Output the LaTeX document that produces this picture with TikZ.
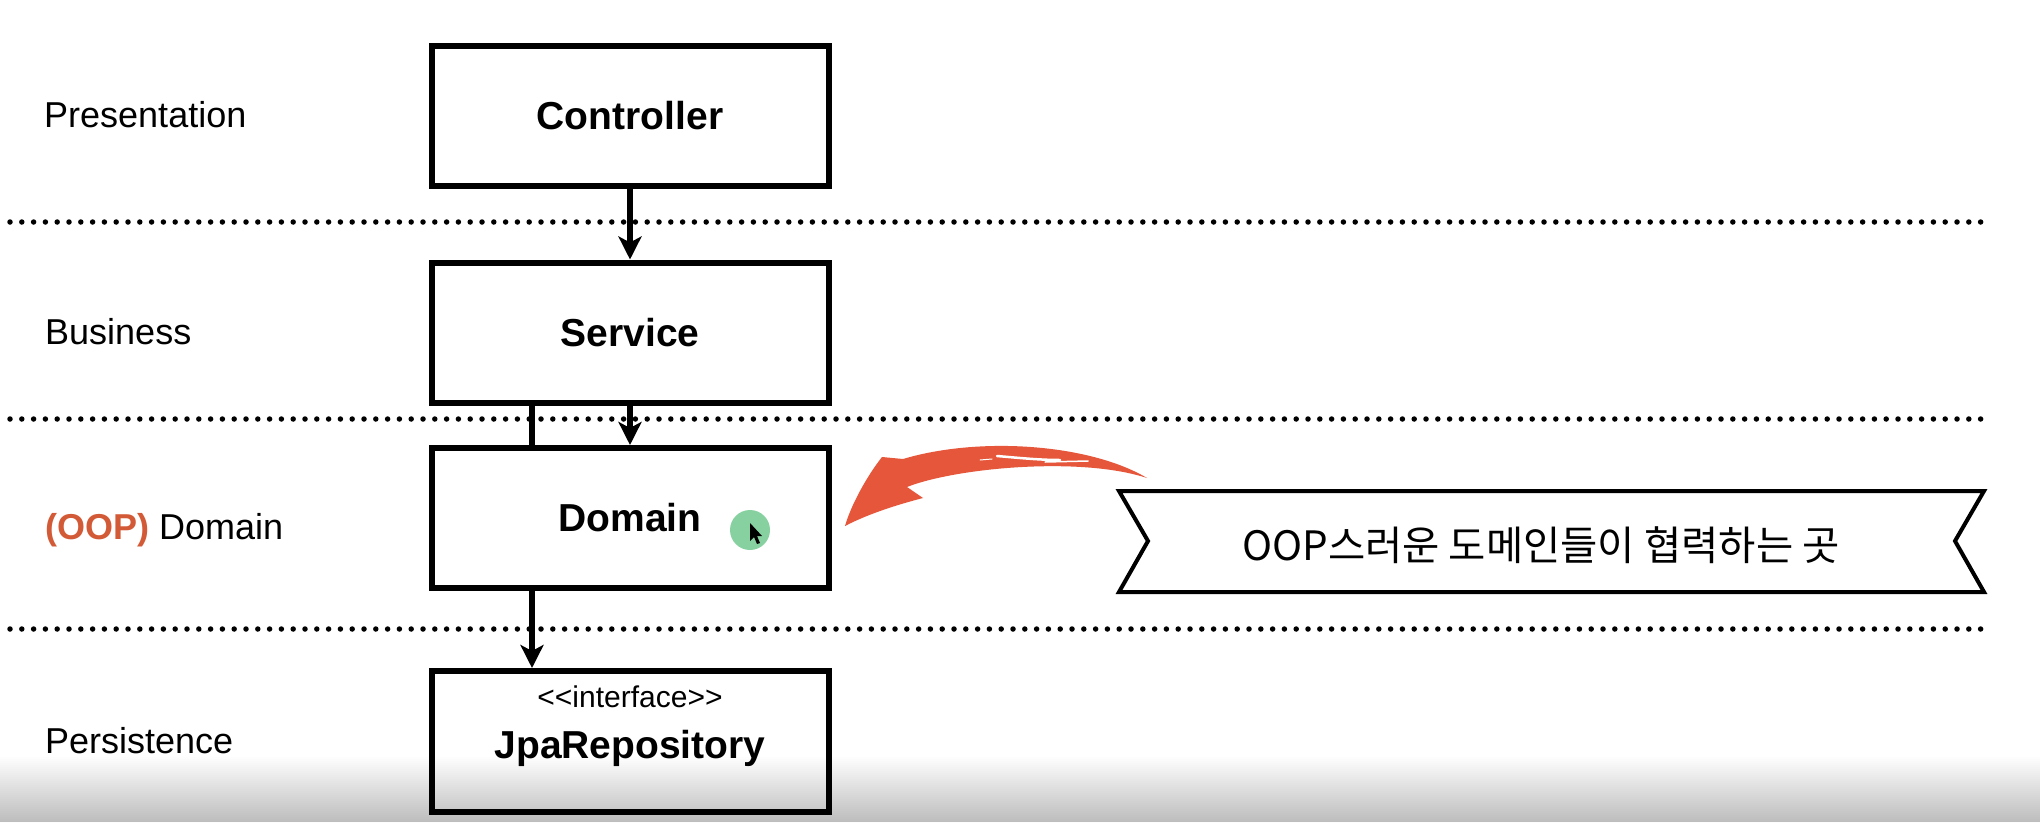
\documentclass[tikz,border=0pt]{standalone}
\usepackage{fontspec}
\setmainfont{Liberation Sans}
\newfontfamily\kr{Noto Sans CJK KR}
\usetikzlibrary{arrows.meta}
\definecolor{brushred}{RGB}{229,86,58}
\definecolor{oopred}{RGB}{211,90,54}
\definecolor{dotgreen}{RGB}{122,204,150}
\tikzset{
  layerbox/.style={draw=black, line width=6pt, minimum width=397pt, minimum height=140pt, inner sep=0pt, fill=white, font=\fontsize{39}{46}\selectfont\bfseries},
  layerlabel/.style={anchor=west, inner sep=0pt, font=\fontsize{36}{42}\selectfont},
  divider/.style={line width=5.5pt, line cap=round, dash pattern=on 0pt off 11.8pt},
  conn/.style={line width=5.5pt},
  arr/.style={line width=5.5pt, -{Stealth[length=23pt,width=23pt,inset=6pt]}},
}
\begin{document}
\begin{tikzpicture}[x=1pt,y=-1pt]
\useasboundingbox (0,0) rectangle (2040,822);
\fill[white] (0,0) rectangle (2040,822);
% dividers
\coordinate (d1l) at (10,222); \coordinate (d1r) at (1984,222);
\coordinate (d2l) at (10,419); \coordinate (d2r) at (1984,419);
\coordinate (d3l) at (10,629); \coordinate (d3r) at (1984,629);
\draw[divider] (d1l) -- (d1r);
\draw[divider] (d2l) -- (d2r);
\draw[divider] (d3l) -- (d3r);
% left labels
\node[layerlabel] (lpres) at (44,115) {Presentation};
\node[layerlabel] (lbus) at (45,332) {Business};
\node[layerlabel] (ldom) at (45,530) {\textcolor{oopred}{\bfseries (OOP)} Domain};
\node[layerlabel] (lpers) at (45,741) {Persistence};
% boxes
\node[layerbox] (ctrl) at (630,116) {Controller};
\node[layerbox] (svc) at (630,332.5) {Service};
\node[layerbox] (dom) at (630,518) {Domain};
\node[layerbox, minimum height=141pt] (jpa) at (630,741.5) {};
\node[inner sep=0pt, font=\fontsize{30}{36}\selectfont] (iface) at (630,697) {<\kern0pt<interface>\kern0pt>};
\node[inner sep=0pt, font=\fontsize{39}{46}\selectfont\bfseries] (jpaname) at (630,748) {JpaRepository};
% connectors
\draw[arr] (ctrl.south) -- (svc.north);
\draw[arr] (svc.south) -- (dom.north);
\draw[conn] ([xshift=-98pt]svc.south) -- ([xshift=-98pt]dom.north);
\draw[arr] ([xshift=-98pt]dom.south) -- ([xshift=-98pt]jpa.north);
% green pointer dot and cursor
\fill[dotgreen, opacity=0.9] (750,530) circle (20pt);
\fill[black] (750,523) -- (750,541) -- (754,537) -- (757,544) -- (760,543) -- (757,536) -- (762,536) -- cycle;
% banner
\draw[line width=4pt, line join=miter, fill=white] (1119,491) -- (1984,491) -- (1955,541) -- (1984,592) -- (1119,592) -- (1148,541) -- cycle;
\node[inner sep=0pt, font=\kr\fontsize{40.5}{46}\selectfont] (bannertext) at (1541,545) {OOP스러운 도메인들이 협력하는 곳};
% brush arrow
\fill[brushred] (1147,478)
  .. controls (1090,444) and (980,436) .. (903,459)
  -- (882,457)
  .. controls (867,476) and (851,505) .. (845,526)
  .. controls (870,513) and (900,504) .. (923,498)
  -- (907,487)
  .. controls (955,468) and (1080,456) .. (1147,478) -- cycle;
\draw[white, line width=2.5pt, line cap=round] (997,456) .. controls (1020,458) and (1040,460) .. (1060,460);
\draw[white, line width=1.5pt, line cap=round] (1045,462) -- (1088,461);
\draw[white, line width=1pt, line cap=round] (980,460) -- (992,459);
% bottom shading
\foreach \i in {0,...,33} {
  \fill[black, opacity=0.0095] (0,{757+2*\i}) rectangle (2040,822);
}
\end{tikzpicture}
\end{document}
